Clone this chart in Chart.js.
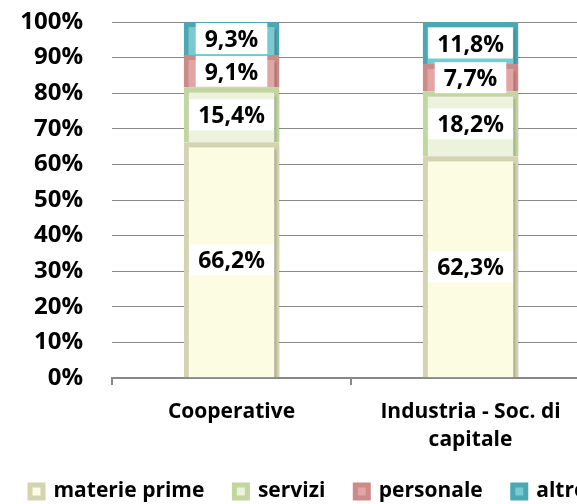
<!DOCTYPE html>
<html>
<head>
<meta charset="utf-8">
<script src="https://cdn.jsdelivr.net/npm/chart.js@4"></script>
<style>
  html, body { margin: 0; padding: 0; background: #fff; overflow: hidden; }
  #wrap { width: 640px; height: 504px; }
</style>
</head>
<body>
<div id="wrap"><canvas id="grafico"></canvas></div>
<script>
// dati
const categorie = [["Cooperative"], ["Industria - Soc. di", "capitale"]];
const materiePrime = [66.2, 62.3];
const servizi = [15.4, 18.2];
const personale = [9.1, 7.7];
const altro = [9.3, 11.8];
const tickY = [0, 10, 20, 30, 40, 50, 60, 70, 80, 90, 100];

const FONT = "'Open Sans', 'DejaVu Sans', sans-serif";

// ombra leggera sotto le barre
const ombra = {
    id: "ombra",
    beforeDatasetsDraw(chart) {
        const ctx = chart.ctx;
        ctx.save();
        ctx.shadowColor = "rgba(0,0,0,0.3)";
        ctx.shadowBlur = 3;
        ctx.shadowOffsetX = 2;
        ctx.shadowOffsetY = 2;
    },
    afterDatasetsDraw(chart) {
        chart.ctx.restore();
    }
};

// etichette con riquadro bianco
const etichette = {
    id: "etichette",
    afterDatasetsDraw(chart) {
        const ctx = chart.ctx;
        ctx.save();
        ctx.font = "bold 23px " + FONT;
        ctx.textAlign = "center";
        ctx.textBaseline = "middle";
        chart.data.datasets.forEach((ds, i) => {
            const meta = chart.getDatasetMeta(i);
            meta.data.forEach((bar, j) => {
                const testo = ds.data[j].toFixed(1).replace(".", ",") + "%";
                const cy = (bar.y + bar.base) / 2;
                const w = ctx.measureText(testo).width + 18;
                const h = 31;
                ctx.fillStyle = "#fff";
                ctx.fillRect(bar.x - w / 2, cy - h / 2, w, h);
                ctx.fillStyle = "#000";
                ctx.fillText(testo, bar.x, cy + 2);
            });
        });
        ctx.restore();
    }
};

new Chart(document.getElementById("grafico"), {
    type: "bar",
    data: {
        labels: categorie,
        datasets: [
            { label: "materie prime", data: materiePrime, backgroundColor: "#FCFCE2", borderColor: "#D4D4B0" },
            { label: "servizi", data: servizi, backgroundColor: "#EDF2DD", borderColor: "#C4D6A0" },
            { label: "personale", data: personale, backgroundColor: "#E3A5A4", borderColor: "#CC8A89" },
            { label: "altro", data: altro, backgroundColor: "#79C9D3", borderColor: "#4BA7B4" }
        ].map(d => Object.assign(d, { borderWidth: 5, barPercentage: 0.4, categoryPercentage: 1 }))
    },
    options: {
        responsive: true,
        maintainAspectRatio: false,
        animation: false,
        layout: { padding: { top: 22, bottom: -8, left: 0, right: 0 } },
        plugins: {
            tooltip: { enabled: false },
            legend: {
                position: "bottom",
                align: "start",
                labels: {
                    color: "#000",
                    font: { family: FONT, size: 21, weight: "bold" },
                    boxWidth: 13,
                    boxHeight: 13,
                    padding: 30
                }
            }
        },
        scales: {
            x: {
                stacked: true,
                grid: { offset: true, drawOnChartArea: false, drawTicks: true, tickLength: 7, color: "#888", lineWidth: 2 },
                border: { display: true, color: "#888", width: 2 },
                ticks: {
                    color: "#000",
                    padding: 13,
                    font: { family: FONT, size: 21, weight: "bold", lineHeight: 1.33 }
                },
                afterFit(scale) { scale.height = 73; }
            },
            y: {
                stacked: true,
                min: 0,
                max: 100,
                afterBuildTicks(scale) { scale.ticks = tickY.map(v => ({ value: v })); },
                grid: { color: "#888", lineWidth: 1, drawTicks: false },
                border: { display: false },
                ticks: {
                    color: "#000",
                    padding: 29,
                    autoSkip: false,
                    font: { family: FONT, size: 24, weight: "bold" },
                    callback: v => v + "%"
                },
                afterFit(scale) {
                    scale.width = 112;
                    scale.paddingTop = 0;
                    scale.paddingBottom = 0;
                }
            },
            // spazio a destra (il grafico originale è tagliato)
            destra: {
                position: "right",
                min: 0,
                max: 100,
                grid: { drawOnChartArea: false, drawTicks: false },
                border: { display: false },
                ticks: { display: false },
                afterFit(scale) { scale.width = 50; }
            }
        }
    },
    plugins: [ombra, etichette]
});
</script>
</body>
</html>
